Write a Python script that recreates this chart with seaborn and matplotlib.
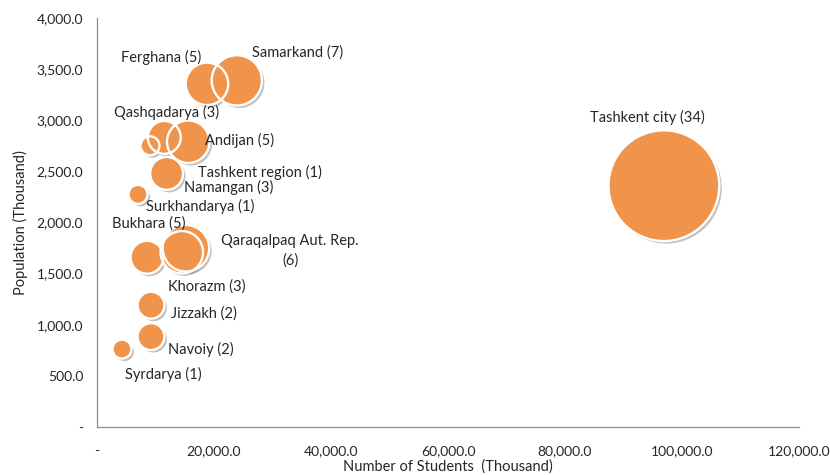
import numpy as np
import pandas as pd
import matplotlib
matplotlib.use("Agg")
import matplotlib.pyplot as plt
import matplotlib.patheffects as pe
from matplotlib.ticker import FuncFormatter
import seaborn as sns

# ---- data ----
regions = ["Tashkent city", "Samarkand", "Ferghana", "Qashqadarya", "Andijan",
           "Tashkent region", "Namangan", "Surkhandarya", "Qaraqalpaq Aut. Rep.",
           "Bukhara", "Khorazm", "Jizzakh", "Navoiy", "Syrdarya"]
students = [96900, 23900, 18800, 11500, 15600, 9060, 11900, 7010, 15200,
            14500, 8550, 9230, 9230, 4270]
population = [2360, 3390, 3356, 2832, 2790, 2750, 2480, 2275, 1748,
              1709, 1660, 1191, 884, 762]
universities = [34, 7, 5, 3, 5, 1, 3, 1, 6, 5, 3, 2, 2, 1]

x_ticks = [0, 20000, 40000, 60000, 80000, 100000, 120000]
y_ticks = [0, 500, 1000, 1500, 2000, 2500, 3000, 3500, 4000]

df = pd.DataFrame({"region": regions, "students": students,
                   "population": population, "n": universities})

# label offsets (points) relative to bubble centre
label_offsets = {
    "Tashkent city": (-12, 49),
    "Samarkand": (44, 20),
    "Ferghana": (-33, 19),
    "Qashqadarya": (2, 18),
    "Andijan": (37, 1),
    "Tashkent region": (79, -19),
    "Namangan": (45, -10),
    "Surkhandarya": (45, -9),
    "Qaraqalpaq Aut. Rep.": (75, -2),
    "Bukhara": (-24, 21),
    "Khorazm": (43, -21),
    "Jizzakh": (38, -6),
    "Navoiy": (36, -9),
    "Syrdarya": (30, -18),
}

sns.set_style("white")
plt.rcParams["font.family"] = ["Lato", "DejaVu Sans"]

fig = plt.figure(figsize=(8.3, 4.75), dpi=100)
ax = fig.add_axes([97/830, 48/475, 702/830, 409/475])

orange = "#F0944B"
unit = 187.0
# fills (with soft shadow)
sns.scatterplot(data=df, x="students", y="population", size="n",
                size_norm=(1, 34), sizes=(unit, unit*34),
                color=orange, edgecolor="none", linewidth=0,
                alpha=1, legend=False, ax=ax, zorder=3)
ax.collections[-1].set_path_effects([
    pe.SimplePatchShadow(offset=(1.8, -1.8), shadow_rgbFace="#777777", alpha=0.45),
    pe.Normal()])
# white rims drawn on top of all fills
sns.scatterplot(data=df, x="students", y="population", size="n",
                size_norm=(1, 34), sizes=(unit, unit*34),
                facecolor="none", edgecolor="white", linewidth=1.7,
                legend=False, ax=ax, zorder=4)

for r, xv, yv, n in zip(regions, students, population, universities):
    dx, dy = label_offsets[r]
    txt = f"{r} ({n})" if r != "Qaraqalpaq Aut. Rep." else f"{r}\n({n})"
    ax.annotate(txt, (xv, yv), xytext=(dx, dy), textcoords="offset points",
                ha="center", va="center", fontsize=10.5, color="#262626",
                linespacing=1.45, zorder=5)

ax.set_xlim(0, 120000)
ax.set_ylim(0, 4000)
ax.set_xticks(x_ticks)
ax.set_yticks(y_ticks)
fmt = FuncFormatter(lambda v, p: "-" if v == 0 else f"{v:,.1f}")
ax.xaxis.set_major_formatter(fmt)
ax.yaxis.set_major_formatter(fmt)

for s in ["top", "right"]:
    ax.spines[s].set_visible(False)
for s in ["left", "bottom"]:
    ax.spines[s].set_color("#8C8C8C")
    ax.spines[s].set_linewidth(0.9)
ax.tick_params(axis="both", which="major", direction="out", length=5, width=0.9,
               color="#8C8C8C", labelsize=10, labelcolor="#262626")
ax.tick_params(axis="x", pad=8)
ax.tick_params(axis="y", pad=5)

ax.set_xlabel("Number of Students  (Thousand)", fontsize=10.5, color="#262626", labelpad=2)
ax.set_ylabel("Population (Thousand)", fontsize=10.5, color="#262626", labelpad=6)

fig.savefig("out.png", dpi=100)
